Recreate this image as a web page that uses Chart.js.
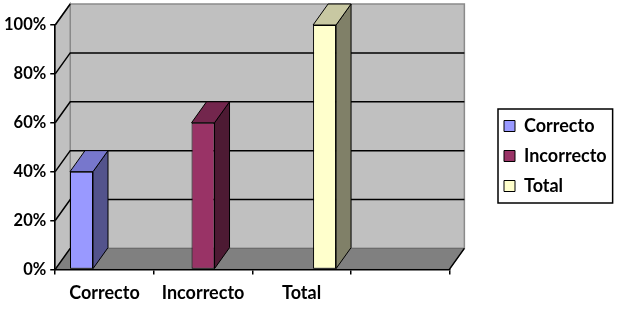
<!DOCTYPE html>
<html>
<head>
<meta charset="utf-8">
<script src="https://cdn.jsdelivr.net/npm/chart.js@4"></script>
<style>
html,body{margin:0;padding:0;background:#fff;}
#wrap{width:627px;height:312px;}
</style>
</head>
<body>
<div id="wrap"><canvas id="c" width="627" height="312"></canvas></div>
<script>
// ---- data ----
const categories = ['Correcto', 'Incorrecto', 'Total', ''];
const seriesNames = ['Correcto', 'Incorrecto', 'Total'];
const correctoValues = [40, null, null, null];
const incorrectoValues = [null, 60, null, null];
const totalValues = [null, null, 100, null];
const yTickValues = [0, 20, 40, 60, 80, 100];

// ---- styles ----
const frontColors = ['#9999FF', '#993366', '#FFFFCC'];
const sideColors = ['#53538C', '#4D1A33', '#808068'];
const topColors = ['#7777CC', '#73264D', '#C8C8A2'];
const DX = 15, DY = -21;
const FONT = 'Lato, "Open Sans", sans-serif';
const LEGEND_LEFT = 492, LEGEND_CENTER_Y = 156;

const threeD = {
  id: 'threeD',
  afterLayout(chart) {
    const lg = chart.legend;
    if (!lg) return;
    const w = lg.width, h = lg.height;
    lg.left = LEGEND_LEFT; lg.right = LEGEND_LEFT + w;
    lg.top = LEGEND_CENTER_Y - h / 2; lg.bottom = lg.top + h;
  },
  beforeDraw(chart) {
    const ctx = chart.ctx;
    const ys = chart.scales.y, xs = chart.scales.x;
    const L = xs.left, R = xs.right;
    const T = ys.getPixelForValue(100), B = ys.getPixelForValue(0);
    ctx.save();
    // back wall
    ctx.fillStyle = '#C0C0C0';
    ctx.fillRect(L + DX, T + DY, R - L, B - T);
    ctx.strokeStyle = '#8A8A8A';
    ctx.lineWidth = 1.5;
    ctx.strokeRect(L + DX, T + DY, R - L, B - T);
    // left wall
    ctx.beginPath();
    ctx.moveTo(L, T); ctx.lineTo(L + DX, T + DY); ctx.lineTo(L + DX, B + DY); ctx.lineTo(L, B); ctx.closePath();
    ctx.fillStyle = '#C0C0C0'; ctx.fill();
    ctx.strokeStyle = '#8A8A8A'; ctx.stroke();
    // floor
    ctx.beginPath();
    ctx.moveTo(L, B); ctx.lineTo(L + DX, B + DY); ctx.lineTo(R + DX, B + DY); ctx.lineTo(R, B); ctx.closePath();
    ctx.fillStyle = '#808080'; ctx.fill();
    ctx.strokeStyle = '#6A6A6A'; ctx.lineWidth = 1; ctx.stroke();
    ctx.beginPath();
    ctx.moveTo(R, B); ctx.lineTo(R + DX, B + DY);
    ctx.strokeStyle = '#000'; ctx.lineWidth = 1.5; ctx.stroke();
    // gridlines
    ctx.strokeStyle = '#000';
    ctx.lineWidth = 1.5;
    yTickValues.forEach(v => {
      const y = ys.getPixelForValue(v);
      ctx.beginPath();
      ctx.moveTo(L, y); ctx.lineTo(L + DX, y + DY);
      if (v > 0 && v < 100) ctx.lineTo(R + DX, y + DY);
      ctx.stroke();
    });
    ctx.restore();
  },
  afterDatasetsDraw(chart) {
    const ctx = chart.ctx;
    ctx.save();
    ctx.lineWidth = 1;
    ctx.strokeStyle = '#000';
    chart.data.datasets.forEach((ds, i) => {
      const meta = chart.getDatasetMeta(i);
      meta.data.forEach((el, j) => {
        if (ds.data[j] == null) return;
        const p = el.getProps(['x', 'y', 'base', 'width'], true);
        const l = p.x - p.width / 2, r = p.x + p.width / 2;
        // side face
        ctx.beginPath();
        ctx.moveTo(r, p.y); ctx.lineTo(r + DX, p.y + DY); ctx.lineTo(r + DX, p.base + DY); ctx.lineTo(r, p.base); ctx.closePath();
        ctx.fillStyle = sideColors[i]; ctx.fill(); ctx.stroke();
        // top face
        ctx.beginPath();
        ctx.moveTo(l, p.y); ctx.lineTo(l + DX, p.y + DY); ctx.lineTo(r + DX, p.y + DY); ctx.lineTo(r, p.y); ctx.closePath();
        ctx.fillStyle = topColors[i]; ctx.fill(); ctx.stroke();
      });
    });
    ctx.restore();
  },
  afterDraw(chart) {
    const lg = chart.legend;
    if (!lg || !lg.legendHitBoxes || !lg.legendHitBoxes.length) return;
    const hb = lg.legendHitBoxes;
    let x0 = Infinity, y0 = Infinity, x1 = -Infinity, y1 = -Infinity;
    hb.forEach(b => { x0 = Math.min(x0, b.left); y0 = Math.min(y0, b.top); x1 = Math.max(x1, b.left + b.width); y1 = Math.max(y1, b.top + b.height); });
    const ctx = chart.ctx;
    ctx.save();
    ctx.strokeStyle = '#000'; ctx.lineWidth = 1.5;
    ctx.strokeRect(x0 - 6, y0 - 8, (x1 - x0) + 12, (y1 - y0) + 16);
    ctx.restore();
  }
};

new Chart(document.getElementById('c'), {
  type: 'bar',
  data: {
    labels: categories,
    datasets: [
      { label: seriesNames[0], data: correctoValues, backgroundColor: frontColors[0] },
      { label: seriesNames[1], data: incorrectoValues, backgroundColor: frontColors[1] },
      { label: seriesNames[2], data: totalValues, backgroundColor: frontColors[2] }
    ]
  },
  options: {
    responsive: false,
    animation: false,
    devicePixelRatio: 1,
    layout: { padding: { top: 25, bottom: 0, left: 0, right: 53 } },
    datasets: {
      bar: {
        barPercentage: 1.0,
        categoryPercentage: 0.7,
        borderColor: '#000',
        borderWidth: 1,
        borderSkipped: false
      }
    },
    scales: {
      x: {
        grid: { display: true, drawOnChartArea: false, drawTicks: true, tickLength: 5, color: '#000', lineWidth: 1.5 },
        border: { display: true, color: '#000', width: 1.5 },
        ticks: { color: '#000', padding: 8, autoSkip: false, maxRotation: 0, font: { family: FONT, size: 18, weight: 'bold' } }
      },
      y: {
        min: 0, max: 100,
        afterBuildTicks(scale) { scale.ticks = yTickValues.map(v => ({ value: v })); },
        grid: { display: true, drawOnChartArea: false, drawTicks: true, tickLength: 5, color: '#000', lineWidth: 1.5 },
        border: { display: true, color: '#000', width: 1.5 },
        ticks: { color: '#000', padding: 4, font: { family: FONT, size: 16.5, weight: 'bold' }, callback: v => v + '%' }
      }
    },
    plugins: {
      legend: {
        position: 'right',
        labels: {
          color: '#000',
          boxWidth: 11, boxHeight: 11,
          padding: 12,
          font: { family: FONT, size: 18, weight: 'bold' }
        }
      },
      tooltip: { enabled: false }
    }
  },
  plugins: [threeD]
});
</script>
</body>
</html>
